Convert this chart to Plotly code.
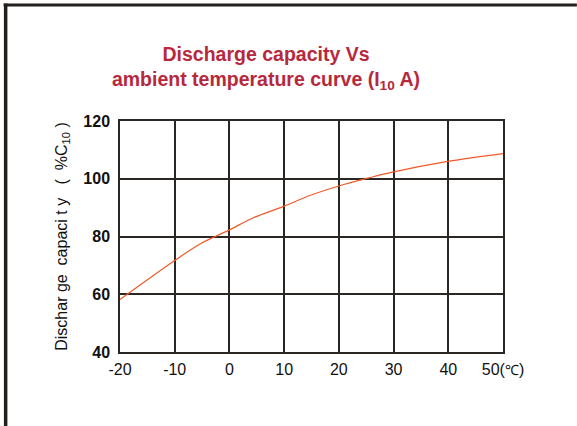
import plotly.graph_objects as go

temperature = [-20, -10, -5.3, -2.6, 0, 4.4, 10, 14.7, 20, 25.3, 29.6, 39.9, 50]
capacity = [58.2, 71.7, 77.5, 80.0, 82.3, 86.5, 90.5, 94.2, 97.5, 100.2, 102.2, 106.0, 108.7]

x_ticks = [-20, -10, 0, 10, 20, 30, 40, 50]
x_ticktext = ["-20", "-10", "0", "10", "20", "30", "40", "50(<span style='font-size:14px'>℃</span>)"]
y_ticks = [40, 60, 80, 100, 120]
y_ticktext = ["<b>40</b>", "<b>60</b>", "<b>80</b>", "<b>100</b>", "<b>120</b>"]

W, H = 577, 426
L, R, T, B = 119.5, 74, 120.7, 74.3

fig = go.Figure()
fig.add_trace(go.Scatter(x=temperature, y=capacity, mode="lines",
                         line=dict(color="#f05a28", width=1.2, shape="spline"),
                         showlegend=False, hoverinfo="skip"))

fig.update_layout(
    width=W, height=H,
    margin=dict(l=L, r=R, t=T, b=B),
    paper_bgcolor="white", plot_bgcolor="white",
    font=dict(family="Liberation Sans, Arial, sans-serif", color="#111"),
    title=dict(
        text="Discharge capacity Vs<br>ambient temperature curve (I<sub>10</sub> A)",
        x=266 / W, xanchor="center", xref="container",
        y=1 - 61 / H, yanchor="top", yref="container",
        font=dict(size=19.5, color="#b8283c", family="Liberation Sans, Arial, sans-serif", weight="bold"),
    ),
    xaxis=dict(range=[-20, 50], tickvals=x_ticks, ticktext=x_ticktext,
               showgrid=True, gridcolor="#2a2623", gridwidth=1.5,
               showline=True, linecolor="#2a2623", linewidth=1.5, mirror=True,
               ticks="", zeroline=False, tickfont=dict(size=16, color="#111"), ticklabelstandoff=2),
    yaxis=dict(range=[40, 120], tickvals=y_ticks, ticktext=y_ticktext,
               showgrid=True, gridcolor="#2a2623", gridwidth=1.5,
               showline=True, linecolor="#2a2623", linewidth=1.5, mirror=True,
               ticks="", zeroline=False, tickfont=dict(size=16, color="#111"), ticklabelstandoff=5,
               title=dict(text="Dischar ge  capaci t y   (  %C<sub>10</sub> )",
                          font=dict(size=16, color="#111"), standoff=12)),
    shapes=[
        dict(type="line", xref="paper", yref="paper",
             x0=-(L - 3) / (W - L - R), x1=(W - L) / (W - L - R),
             y0=1 + (T - 4.8) / (H - T - B), y1=1 + (T - 4.8) / (H - T - B),
             line=dict(color="#231f1c", width=3)),
        dict(type="line", xref="paper", yref="paper",
             x0=-(L - 5) / (W - L - R), x1=-(L - 5) / (W - L - R),
             y0=1 + (T - 3.3) / (H - T - B), y1=-B / (H - T - B),
             line=dict(color="#231f1c", width=3.5)),
    ],
)

fig.write_html("out.html", config={"displayModeBar": False},
               post_script="document.body.style.margin='0';document.body.style.overflow='hidden';")
